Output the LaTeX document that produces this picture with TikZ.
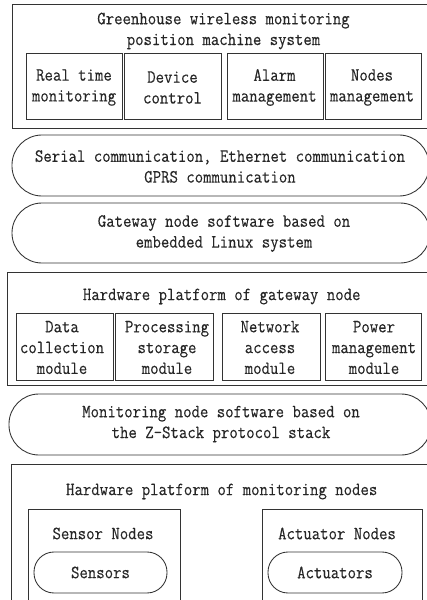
\documentclass[tikz,border=0pt]{standalone}
\usepackage{fontspec}
\setmonofont{Latin Modern Mono}[FakeStretch=0.875, FakeBold=0.25]
\usetikzlibrary{fit}
\begin{document}
\begin{tikzpicture}[x=0.75pt,y=-0.75pt,
  box/.style={draw=black!80, line width=0.65pt, rectangle, inner sep=0pt},
  pill/.style={draw=black!80, line width=0.65pt, rectangle, rounded corners=22.5pt, inner sep=0pt},
  spill/.style={draw=black!80, line width=0.65pt, rectangle, rounded corners=15pt, inner sep=0pt},
  txt/.style={align=center, inner sep=0pt, text=black!85, font=\ttfamily\fontsize{14}{15.6}\selectfont}]
\useasboundingbox (0,0) rectangle (427,600);
\clip (0,0) rectangle (427,600);
% top system box
\node[box, fit={(12,4) (435,128)}] (sys) {};
\node[txt] (systxt) at (223.5,31) {Greenhouse wireless monitoring\\position machine system};
\node[box, fit={(26,53) (122,119)}] (rt) {};
\node[box, fit={(124,53) (221,119)}] (dc) {};
\node[box, fit={(227,53) (323,119)}] (am) {};
\node[box, fit={(325,53) (421,119)}] (nm) {};
\node[txt] (rttxt) at (74,87.5) {Real time\\monitoring};
\node[txt] (dctxt) at (172.5,87.5) {Device\\control};
\node[txt] (amtxt) at (274.5,87.5) {Alarm\\management};
\node[txt] (nmtxt) at (372,87.5) {Nodes\\management};
% communication pill
\node[pill, fit={(12,135) (429,196)}] (comm) {};
\node[txt] (commtxt) at (220,166.5) {Serial communication, Ethernet communication\\GPRS communication};
% gateway software pill
\node[pill, fit={(12,203) (430,263)}] (gws) {};
\node[txt] (gwstxt) at (224,233.5) {Gateway node software based on\\embedded Linux system};
% gateway hardware box
\node[box, fit={(7,272) (436,385)}] (gwh) {};
\node[txt] (gwhtxt) at (221.7,296.5) {Hardware platform of gateway node};
\node[box, fit={(16,313) (113,380)}] (dcm) {};
\node[box, fit={(115,313) (213,380)}] (psm) {};
\node[box, fit={(222,313) (320,380)}] (nam) {};
\node[box, fit={(325,313) (421,380)}] (pmm) {};
\node[txt] (dcmtxt) at (62,347.5) {Data\\collection\\module};
\node[txt] (psmtxt) at (167,347.5) {Processing\\storage\\module};
\node[txt] (namtxt) at (270,347.5) {Network\\access\\module};
\node[txt] (pmmtxt) at (374,347.5) {Power\\management\\module};
% monitoring software pill
\node[pill, fit={(9,394) (431,455)}] (mns) {};
\node[txt] (mnstxt) at (221,424) {Monitoring node software based on\\the Z-Stack protocol stack};
% monitoring hardware box
\node[box, fit={(11,464) (432,610)}] (mnh) {};
\node[txt] (mnhtxt) at (221.7,491.5) {Hardware platform of monitoring nodes};
\node[box, fit={(28,509) (180,610)}] (sn) {};
\node[box, fit={(262,509) (422,610)}] (an) {};
\node[txt] (sntxt) at (103,533.5) {Sensor Nodes};
\node[txt] (antxt) at (337,533.5) {Actuator Nodes};
\node[spill, fit={(34,552) (167,593)}] (sens) {};
\node[spill, fit={(268,552) (402,593)}] (act) {};
\node[txt] (senstxt) at (100.5,572.5) {Sensors};
\node[txt] (acttxt) at (335,572.5) {Actuators};
\end{tikzpicture}
\end{document}
